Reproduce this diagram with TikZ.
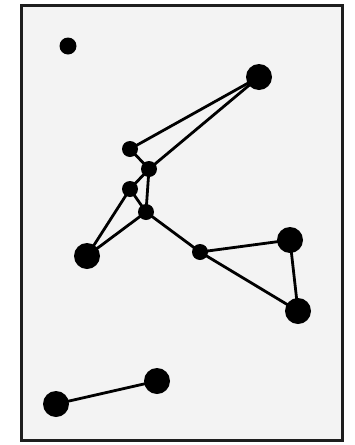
\documentclass[tikz,border=0pt]{standalone}
\begin{document}
\begin{tikzpicture}[x=1pt,y=-1pt,
  dot/.style={circle,fill=black,inner sep=0pt,minimum size=16pt},
  bigdot/.style={circle,fill=black,inner sep=0pt,minimum size=26pt},
  link/.style={line width=2.8pt,black}]
\useasboundingbox (0,0) rectangle (355,445);
\fill[white] (0,0) rectangle (355,445);
\draw[line width=3pt,draw={rgb,255:red,30;green,30;blue,30},fill={rgb,255:red,243;green,243;blue,243}] (21.5,5.5) rectangle (342.5,440.5);

\node[dot,minimum size=17pt] (a) at (68,46) {};
\node[bigdot] (b) at (259,77) {};
\node[dot] (c) at (130,149) {};
\node[dot] (d) at (149,169) {};
\node[dot] (e) at (130,189) {};
\node[dot] (f) at (146,212) {};
\node[bigdot] (g) at (87,256) {};
\node[dot] (h) at (200,252) {};
\node[bigdot] (i) at (290,240) {};
\node[bigdot] (j) at (298,311) {};
\node[bigdot] (k) at (157,381) {};
\node[bigdot] (l) at (56,404) {};

\draw[link] (c.center) -- (b.center);
\draw[link] (d.center) -- (b.center);
\draw[link] (c.center) -- (d.center);
\draw[link] (d.center) -- (e.center);
\draw[link] (d.center) -- (f.center);
\draw[link] (e.center) -- (f.center);
\draw[link] (e.center) -- (g.center);
\draw[link] (f.center) -- (g.center);
\draw[link] (f.center) -- (h.center);
\draw[link] (h.center) -- (i.center);
\draw[link] (h.center) -- (j.center);
\draw[link] (i.center) -- (j.center);
\draw[link] (k.center) -- (l.center);
\end{tikzpicture}
\end{document}
